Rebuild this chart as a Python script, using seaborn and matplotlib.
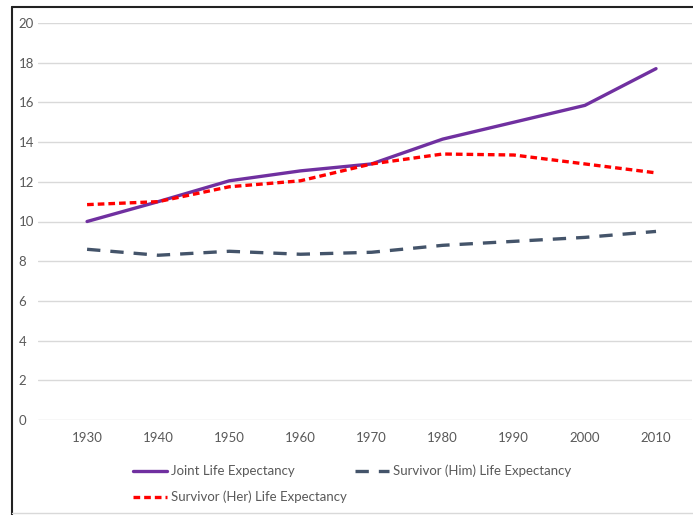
import pandas as pd
import matplotlib
matplotlib.use('Agg')
import matplotlib.pyplot as plt
import seaborn as sns
from matplotlib.lines import Line2D

sns.set_theme(style='white')
plt.rcParams['font.family'] = ['Lato', 'DejaVu Sans']

years = [1930, 1940, 1950, 1960, 1970, 1980, 1990, 2000, 2010]
joint = [10.0, 11.0, 12.05, 12.55, 12.9, 14.15, 15.0, 15.85, 17.7]
him = [8.6, 8.3, 8.5, 8.35, 8.45, 8.8, 9.0, 9.2, 9.5]
her = [10.85, 11.0, 11.75, 12.05, 12.9, 13.4, 13.35, 12.9, 12.45]

series_names = ['Joint Life Expectancy', 'Survivor (Him) Life Expectancy', 'Survivor (Her) Life Expectancy']
colors = {'Joint Life Expectancy': '#7030A0',
          'Survivor (Him) Life Expectancy': '#44546A',
          'Survivor (Her) Life Expectancy': '#FF0000'}
dashes = {'Joint Life Expectancy': '',
          'Survivor (Him) Life Expectancy': (4, 3),
          'Survivor (Her) Life Expectancy': (2, 1.2)}

df = pd.DataFrame({'year': years * 3,
                   'value': joint + him + her,
                   'series': sum([[n] * len(years) for n in series_names], [])})

W, H = 693, 515
fig = plt.figure(figsize=(W / 100, H / 100), dpi=100)
fig.patch.set_facecolor('white')

# frame around chart
fig.add_artist(Line2D([12 / W, 12 / W], [0, 1 - 7 / H], color='#222222', lw=1.5))
fig.add_artist(Line2D([12 / W, 1], [1 - 7 / H, 1 - 7 / H], color='#222222', lw=1.5))
fig.add_artist(Line2D([12 / W, 1], [2 / H, 2 / H], color='#d9d9d9', lw=1))

ax = fig.add_axes([38 / W, 1 - 420 / H, (692 - 38) / W, (420 - 23) / H])
sns.lineplot(data=df, x='year', y='value', hue='series', style='series',
             palette=colors, dashes=dashes, linewidth=2.4, ax=ax, legend=False)

ax.set_xlim(1923.1, 2015.06)
ax.set_ylim(0, 20)
ax.set_yticks(range(0, 21, 2))
ax.set_xticks(years)
ax.yaxis.grid(True, color='#d9d9d9', lw=1)
ax.xaxis.grid(False)
for s in ax.spines.values():
    s.set_visible(False)
ax.tick_params(axis='both', length=0, labelsize=9.5, labelcolor='#595959')
ax.tick_params(axis='x', pad=9)
ax.set_xlabel('')
ax.set_ylabel('')
for lab in ax.get_yticklabels():
    lab.set_horizontalalignment('left')
ax.tick_params(axis='y', pad=14)

handles = [Line2D([], [], color=colors[n], lw=2.4,
                  dashes=dashes[n] if dashes[n] else (None, None)) for n in series_names]
order = [0, 2, 1]
ax.legend([handles[i] for i in order], [series_names[i] for i in order],
          ncol=2, frameon=False, loc='upper left',
          bbox_to_anchor=(121 / W, 1 - 453 / H), bbox_transform=fig.transFigure,
          fontsize=9.5, labelcolor='#595959', handlelength=2.6, handletextpad=0.3,
          columnspacing=0.6, labelspacing=1.0)

fig.savefig('out.png', dpi=100, facecolor='white')
